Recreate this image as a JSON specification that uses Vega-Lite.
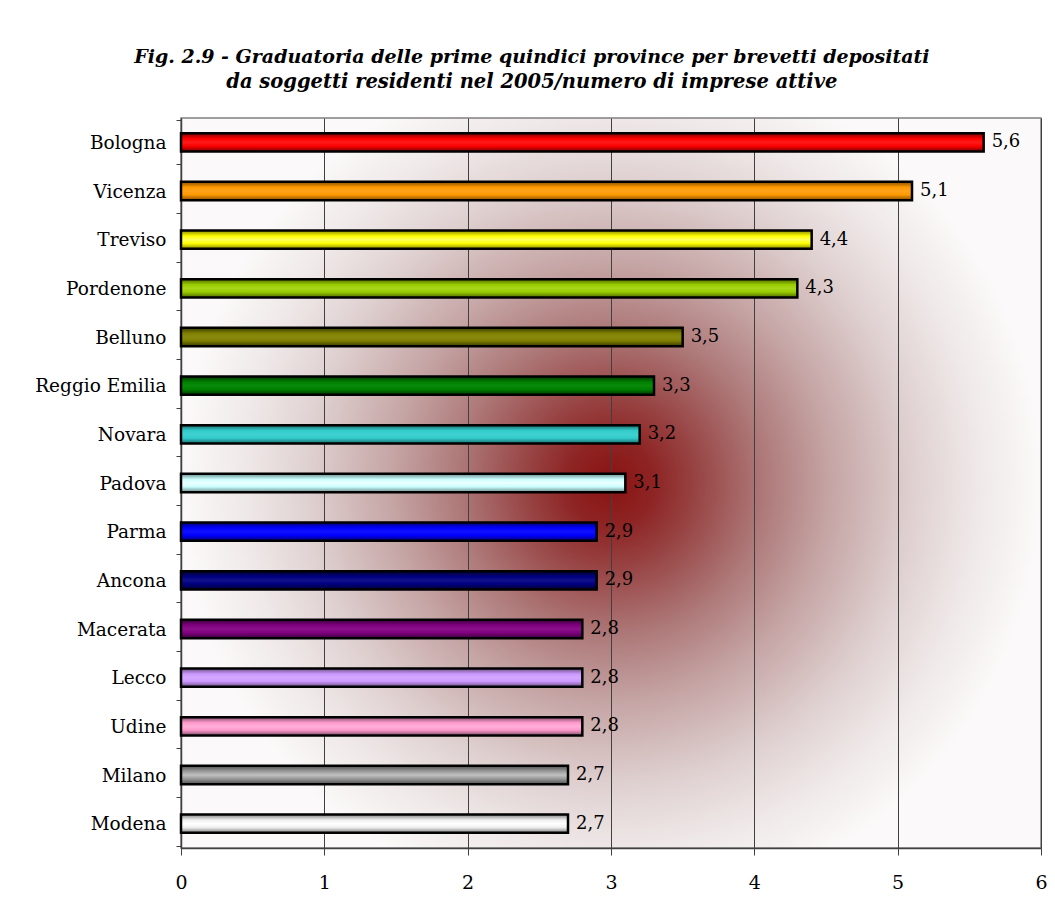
{
  "$schema": "https://vega.github.io/schema/vega-lite/v6.json",
  "width": 860,
  "height": 730,
  "autosize": {"type": "none"},
  "padding": {"left": 181, "top": 118, "right": 14, "bottom": 52},
  "background": "white",
  "title": {
    "text": "Fig. 2.9 - Graduatoria delle prime quindici province per brevetti depositati",
    "subtitle": "da soggetti residenti nel 2005/numero di imprese attive",
    "font": "DejaVu Serif", "fontSize": 19, "fontStyle": "italic", "fontWeight": "bold", "color": "black",
    "subtitleFont": "DejaVu Serif", "subtitleFontSize": 19.5, "subtitleFontStyle": "italic", "subtitleFontWeight": "bold", "subtitleColor": "black",
    "anchor": "middle", "frame": "bounds", "offset": 18, "subtitlePadding": 6, "dx": -9
  },
  "data": {
    "values": [
      {"provincia": "Bologna", "valore": 5.6},
      {"provincia": "Vicenza", "valore": 5.1},
      {"provincia": "Treviso", "valore": 4.4},
      {"provincia": "Pordenone", "valore": 4.3},
      {"provincia": "Belluno", "valore": 3.5},
      {"provincia": "Reggio Emilia", "valore": 3.3},
      {"provincia": "Novara", "valore": 3.2},
      {"provincia": "Padova", "valore": 3.1},
      {"provincia": "Parma", "valore": 2.9},
      {"provincia": "Ancona", "valore": 2.9},
      {"provincia": "Macerata", "valore": 2.8},
      {"provincia": "Lecco", "valore": 2.8},
      {"provincia": "Udine", "valore": 2.8},
      {"provincia": "Milano", "valore": 2.7},
      {"provincia": "Modena", "valore": 2.7}
    ]
  },
  "encoding": {
    "y": {"field": "provincia", "type": "nominal", "sort": null,
      "axis": {"title": null, "tickBand": "extent", "tickSize": 5, "tickColor": "#404040", "domainColor": "#404040", "domainWidth": 1.5, "labelFont": "DejaVu Serif", "labelFontSize": 18.5, "labelPadding": 10, "labelColor": "black", "grid": false}},
    "x": {"field": "valore", "type": "quantitative", "scale": {"domain": [0, 6], "nice": false},
      "axis": {"title": null, "values": [0, 1, 2, 3, 4, 5, 6], "format": "d", "labelFlush": false, "grid": true, "gridColor": "#404040", "gridWidth": 1, "domainColor": "#404040", "domainWidth": 1.5, "tickColor": "#404040", "tickSize": 7, "labelPadding": 18, "labelFont": "DejaVu Serif", "labelFontSize": 19, "labelColor": "black"}}
  },
  "layer": [
    {
      "mark": {"type": "bar", "stroke": "black", "strokeWidth": 2.5, "height": {"band": 0.42}},
      "encoding": {
        "fill": {
          "condition": [
            {"test": "datum.provincia === 'Bologna'", "value": {"gradient": "linear", "x1": 0, "y1": 0, "x2": 0, "y2": 1, "stops": [{"offset": 0, "color": "#7a0000"}, {"offset": 0.3, "color": "#ff0000"}, {"offset": 0.5, "color": "#ff1a1a"}, {"offset": 0.7, "color": "#ff0000"}, {"offset": 1, "color": "#7a0000"}]}},
            {"test": "datum.provincia === 'Vicenza'", "value": {"gradient": "linear", "x1": 0, "y1": 0, "x2": 0, "y2": 1, "stops": [{"offset": 0, "color": "#8a5000"}, {"offset": 0.3, "color": "#ff9900"}, {"offset": 0.5, "color": "#ffa31a"}, {"offset": 0.7, "color": "#ff9900"}, {"offset": 1, "color": "#8a5000"}]}},
            {"test": "datum.provincia === 'Treviso'", "value": {"gradient": "linear", "x1": 0, "y1": 0, "x2": 0, "y2": 1, "stops": [{"offset": 0, "color": "#8a8a00"}, {"offset": 0.3, "color": "#ffff00"}, {"offset": 0.5, "color": "#ffff60"}, {"offset": 0.7, "color": "#ffff00"}, {"offset": 1, "color": "#8a8a00"}]}},
            {"test": "datum.provincia === 'Pordenone'", "value": {"gradient": "linear", "x1": 0, "y1": 0, "x2": 0, "y2": 1, "stops": [{"offset": 0, "color": "#4d6600"}, {"offset": 0.3, "color": "#99cc00"}, {"offset": 0.5, "color": "#a8d61a"}, {"offset": 0.7, "color": "#99cc00"}, {"offset": 1, "color": "#4d6600"}]}},
            {"test": "datum.provincia === 'Belluno'", "value": {"gradient": "linear", "x1": 0, "y1": 0, "x2": 0, "y2": 1, "stops": [{"offset": 0, "color": "#3a3a00"}, {"offset": 0.3, "color": "#808000"}, {"offset": 0.5, "color": "#8a8a10"}, {"offset": 0.7, "color": "#808000"}, {"offset": 1, "color": "#3a3a00"}]}},
            {"test": "datum.provincia === 'Reggio Emilia'", "value": {"gradient": "linear", "x1": 0, "y1": 0, "x2": 0, "y2": 1, "stops": [{"offset": 0, "color": "#003300"}, {"offset": 0.3, "color": "#008000"}, {"offset": 0.5, "color": "#0a8a0a"}, {"offset": 0.7, "color": "#008000"}, {"offset": 1, "color": "#003300"}]}},
            {"test": "datum.provincia === 'Novara'", "value": {"gradient": "linear", "x1": 0, "y1": 0, "x2": 0, "y2": 1, "stops": [{"offset": 0, "color": "#1a6b6b"}, {"offset": 0.3, "color": "#33cccc"}, {"offset": 0.5, "color": "#40d0d0"}, {"offset": 0.7, "color": "#33cccc"}, {"offset": 1, "color": "#1a6b6b"}]}},
            {"test": "datum.provincia === 'Padova'", "value": {"gradient": "linear", "x1": 0, "y1": 0, "x2": 0, "y2": 1, "stops": [{"offset": 0, "color": "#6a8c8c"}, {"offset": 0.3, "color": "#ccffff"}, {"offset": 0.5, "color": "#eaffff"}, {"offset": 0.7, "color": "#ccffff"}, {"offset": 1, "color": "#6a8c8c"}]}},
            {"test": "datum.provincia === 'Parma'", "value": {"gradient": "linear", "x1": 0, "y1": 0, "x2": 0, "y2": 1, "stops": [{"offset": 0, "color": "#000070"}, {"offset": 0.3, "color": "#0000ff"}, {"offset": 0.5, "color": "#1010ff"}, {"offset": 0.7, "color": "#0000ff"}, {"offset": 1, "color": "#000070"}]}},
            {"test": "datum.provincia === 'Ancona'", "value": {"gradient": "linear", "x1": 0, "y1": 0, "x2": 0, "y2": 1, "stops": [{"offset": 0, "color": "#000030"}, {"offset": 0.3, "color": "#000080"}, {"offset": 0.5, "color": "#10108a"}, {"offset": 0.7, "color": "#000080"}, {"offset": 1, "color": "#000030"}]}},
            {"test": "datum.provincia === 'Macerata'", "value": {"gradient": "linear", "x1": 0, "y1": 0, "x2": 0, "y2": 1, "stops": [{"offset": 0, "color": "#3a003a"}, {"offset": 0.3, "color": "#800080"}, {"offset": 0.5, "color": "#8a108a"}, {"offset": 0.7, "color": "#800080"}, {"offset": 1, "color": "#3a003a"}]}},
            {"test": "datum.provincia === 'Lecco'", "value": {"gradient": "linear", "x1": 0, "y1": 0, "x2": 0, "y2": 1, "stops": [{"offset": 0, "color": "#6b5080"}, {"offset": 0.3, "color": "#cc99ff"}, {"offset": 0.5, "color": "#d4a8ff"}, {"offset": 0.7, "color": "#cc99ff"}, {"offset": 1, "color": "#6b5080"}]}},
            {"test": "datum.provincia === 'Udine'", "value": {"gradient": "linear", "x1": 0, "y1": 0, "x2": 0, "y2": 1, "stops": [{"offset": 0, "color": "#80506a"}, {"offset": 0.3, "color": "#ff99cc"}, {"offset": 0.5, "color": "#ffb0d8"}, {"offset": 0.7, "color": "#ff99cc"}, {"offset": 1, "color": "#80506a"}]}},
            {"test": "datum.provincia === 'Milano'", "value": {"gradient": "linear", "x1": 0, "y1": 0, "x2": 0, "y2": 1, "stops": [{"offset": 0, "color": "#505050"}, {"offset": 0.3, "color": "#9a9a9a"}, {"offset": 0.5, "color": "#c0c0c0"}, {"offset": 0.7, "color": "#9a9a9a"}, {"offset": 1, "color": "#505050"}]}}
          ],
          "value": {"gradient": "linear", "x1": 0, "y1": 0, "x2": 0, "y2": 1, "stops": [{"offset": 0, "color": "#808080"}, {"offset": 0.3, "color": "#f0f0f0"}, {"offset": 0.5, "color": "#ffffff"}, {"offset": 0.7, "color": "#f0f0f0"}, {"offset": 1, "color": "#808080"}]}
        }
      }
    },
    {
      "mark": {"type": "text", "align": "left", "baseline": "middle", "dx": 8, "font": "DejaVu Serif", "fontSize": 18, "color": "black"},
      "encoding": {
        "text": {"field": "valore", "type": "quantitative", "format": ".1f"}
      }
    }
  ],
  "config": {
    "locale": {"number": {"decimal": ",", "thousands": ".", "grouping": [3], "currency": ["", " €"]}},
    "view": {
      "stroke": "#808080",
      "strokeWidth": 1.5,
      "fill": {"gradient": "radial", "x1": 0.5, "y1": 0.5, "r1": 0, "x2": 0.5, "y2": 0.5, "r2": 0.5,
        "stops": [
          {"offset": 0, "color": "#8a1212"},
          {"offset": 0.1, "color": "#8e2424"},
          {"offset": 0.2, "color": "#984444"},
          {"offset": 0.35, "color": "#ad7777"},
          {"offset": 0.5, "color": "#c4a2a2"},
          {"offset": 0.7, "color": "#dfd0d0"},
          {"offset": 0.85, "color": "#efe8e8"},
          {"offset": 1, "color": "#fbf9f9"}
        ]}
    }
  }
}
